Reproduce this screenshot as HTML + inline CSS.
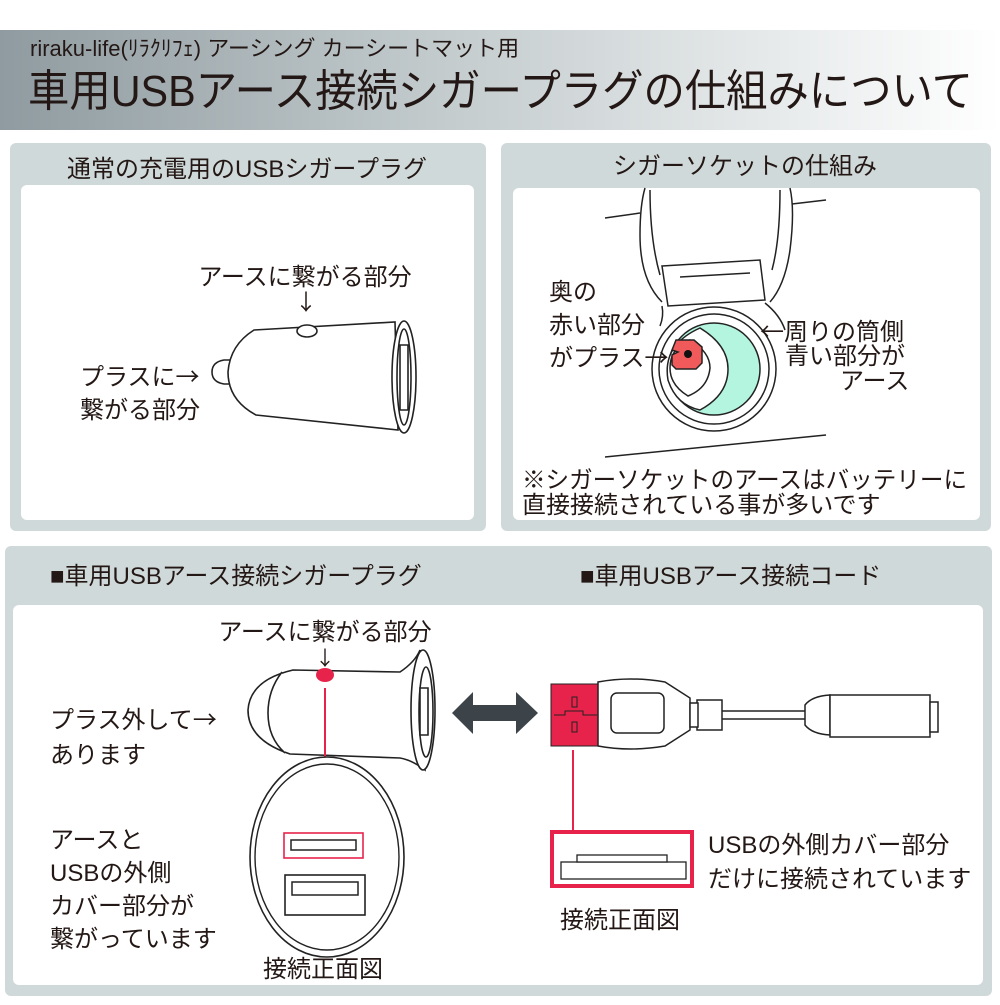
<!DOCTYPE html>
<html><head><meta charset="utf-8"><style>
body{margin:0;background:#fff;}
svg text{font-family:"Liberation Sans","Noto Sans CJK JP",sans-serif;fill:#231815;}
.a{font-family:"Noto Sans CJK JP",sans-serif;}
</style></head><body>
<svg width="1000" height="1000" viewBox="0 0 1000 1000" xmlns="http://www.w3.org/2000/svg">
<defs><linearGradient id="g" x1="0" x2="1" y1="0" y2="0">
<stop offset="0" stop-color="#8f9ba0"/><stop offset="0.45" stop-color="#c4ccce"/><stop offset="1" stop-color="#ffffff"/></linearGradient></defs>
<rect x="0" y="30" width="1000" height="100" fill="url(#g)"/>
<text x="30" y="56" font-size="22">riraku-life(ﾘﾗｸﾘﾌｪ) アーシング カーシートマット用</text>
<text x="28" y="106" font-size="44" textLength="945" lengthAdjust="spacingAndGlyphs">車用USBアース接続シガープラグの仕組みについて</text>

<rect x="10" y="143" width="476" height="388" rx="6" fill="#d0d9d9"/>
<rect x="21" y="185" width="453" height="335" rx="6" fill="#fff"/>
<text x="247" y="177" font-size="24" text-anchor="middle">通常の充電用のUSBシガープラグ</text>
<rect x="501" y="143" width="490" height="388" rx="6" fill="#d0d9d9"/>
<rect x="513" y="188" width="467" height="332" rx="6" fill="#fff"/>
<text x="745" y="174" font-size="24" text-anchor="middle">シガーソケットの仕組み</text>

<!-- top-left plug -->
<g fill="#fff" stroke="#222" stroke-width="1.6">
<path d="M230,360 L224,360 Q212,362 212,372 Q212,382 224,384 L232,384"/>
<path d="M254,330 L395,322 L398,430 L256,415 Q228,400 228,372 Q230,345 254,330Z"/>
<ellipse cx="404" cy="377" rx="12" ry="56"/>
<ellipse cx="404" cy="377" rx="7" ry="48"/>
<path d="M400,345 L408,345 L408,410 L400,410Z"/>
<ellipse cx="307" cy="331" rx="10" ry="6"/>
</g>
<text x="305" y="285" font-size="24" text-anchor="middle">アースに繋がる部分</text>
<text x="295" y="310" font-size="22" class="a">↓</text>
<text x="80" y="385" font-size="24">プラスに<tspan class="a">→</tspan></text>
<text x="80" y="418" font-size="24">繋がる部分</text>

<!-- socket -->
<g fill="none" stroke="#222" stroke-width="1.5">
<line x1="605" y1="218" x2="640" y2="213"/>
<line x1="792" y1="204" x2="826" y2="200"/>
<line x1="605" y1="457" x2="826" y2="435"/>
<path d="M662,302 Q640,280 640,235 Q640,205 645,188 M790,188 Q795,210 790,250 Q785,285 770,302"/>
<path d="M650,190 Q650,240 660,275 M780,190 Q780,240 772,270"/>
<path d="M662,266 L760,260 L765,300 L668,306Z" fill="#fff"/>
<line x1="680" y1="277" x2="750" y2="273"/>
<path d="M662,306 Q664,316 660,326"/>
<path d="M765,303 Q780,315 785,330"/>
</g>
<g stroke="#222" stroke-width="1.5">
<circle cx="714" cy="369" r="62" fill="#fff"/>
<circle cx="714" cy="369" r="55" fill="#fff"/>
<circle cx="714" cy="369" r="46" fill="#b4f5df"/>
<path d="M700,328 Q728,345 728,369 Q728,395 700,410 Q676,405 668,380 Q662,345 700,328Z" fill="#fff"/>
<path d="M690,340 Q710,352 710,368 Q708,388 688,396 Q670,385 670,368 Q670,348 690,340Z" fill="#fff"/>
<path d="M676,340 L694,340 L702,347 L702,363 L696,369 L676,369 L672,365 L672,355 L678,352 L672,350Z" fill="#f05a5a"/>
<circle cx="688" cy="354" r="4" fill="#111" stroke="none"/>
</g>
<text x="549" y="300" font-size="24">奥の</text>
<text x="549" y="333" font-size="24">赤い部分</text>
<text x="549" y="366" font-size="24">がプラス<tspan class="a">→</tspan></text>
<text x="760" y="340" font-size="24"><tspan class="a">←</tspan>周りの筒側</text>
<text x="785" y="364" font-size="24">青い部分が</text>
<text x="840" y="389" font-size="24">アース</text>
<text x="522" y="488" font-size="24" textLength="445" lengthAdjust="spacingAndGlyphs">※シガーソケットのアースはバッテリーに</text>
<text x="522" y="513" font-size="24">直接接続されている事が多いです</text>

<!-- bottom -->
<rect x="5" y="546" width="987" height="450" rx="6" fill="#d0d9d9"/>
<rect x="13" y="605" width="970" height="380" rx="6" fill="#fff"/>
<text x="50" y="584" font-size="24">■車用USBアース接続シガープラグ</text>
<text x="580" y="584" font-size="24">■車用USBアース接続コード</text>

<g fill="#fff" stroke="#222" stroke-width="1.6">
<path d="M293,670 L400,672 Q415,662 420,650 L425,770 Q412,760 400,758 L290,754 Q248,740 248,710 Q250,680 293,670Z"/>
<path d="M282,672 Q268,690 268,713 Q268,738 285,753"/>
<ellipse cx="423" cy="710" rx="12" ry="60"/>
<ellipse cx="426" cy="712" rx="7" ry="45"/>
<path d="M420,688 L428,688 L428,735 L420,735Z"/>
</g>
<ellipse cx="325" cy="675" rx="9" ry="7" fill="#e8234b"/>
<line x1="325" y1="688" x2="325" y2="838" stroke="#e8234b" stroke-width="2"/>
<text x="325" y="640" font-size="24" text-anchor="middle">アースに繋がる部分</text>
<text x="315" y="665" font-size="20" class="a">↓</text>
<text x="50" y="728" font-size="24">プラス外して<tspan class="a">→</tspan></text>
<text x="50" y="763" font-size="24">あります</text>

<ellipse cx="327" cy="857" rx="77" ry="100" fill="#fff" stroke="#222" stroke-width="1.6"/>
<ellipse cx="327" cy="857" rx="72" ry="93" fill="none" stroke="#222" stroke-width="1.4"/>
<rect x="284" y="833" width="79" height="25" fill="#fff" stroke="#e8234b" stroke-width="1.6"/>
<rect x="291" y="840" width="65" height="10" fill="#fff" stroke="#222" stroke-width="1.5"/>
<rect x="285" y="875" width="80" height="40" fill="#fff" stroke="#222" stroke-width="1.6"/>
<rect x="292" y="882" width="66" height="13" fill="#fff" stroke="#222" stroke-width="1.5"/>
<text x="50" y="848" font-size="24">アースと</text>
<text x="50" y="881" font-size="24">USBの外側</text>
<text x="50" y="914" font-size="24">カバー部分が</text>
<text x="50" y="947" font-size="24">繋がっています</text>
<text x="323" y="977" font-size="24" text-anchor="middle">接続正面図</text>

<polygon points="452,713 473,692 473,705 516,705 516,692 538,713 516,734 516,721 473,721 473,734" fill="#3c4449"/>

<rect x="551" y="684" width="48" height="62" fill="#e8234b" stroke="#222" stroke-width="1"/>
<path d="M554,715 L565,715 L565,711 L583,711 L583,715 L597,715" fill="none" stroke="#222" stroke-width="1"/>
<rect x="572" y="697" width="5" height="10" fill="none" stroke="#222"/>
<rect x="572" y="722" width="5" height="10" fill="none" stroke="#222"/>
<g fill="#fff" stroke="#222" stroke-width="1.5">
<path d="M598,682 Q630,676 665,682 L690,698 L690,730 L665,746 Q630,752 598,746Z"/>
<rect x="611" y="693" width="53" height="40" rx="6"/>
<rect x="697" y="700" width="25" height="30"/>
<rect x="690" y="703" width="8" height="24"/>
<line x1="722" y1="711" x2="805" y2="711"/>
<line x1="722" y1="719" x2="805" y2="719"/>
<path d="M805,705 Q812,696 830,695 L830,735 Q812,734 805,725Z"/>
<rect x="830" y="695" width="100" height="42"/>
<rect x="930" y="702" width="8" height="30"/>
</g>
<line x1="573" y1="750" x2="573" y2="830" stroke="#e8234b" stroke-width="2"/>
<rect x="552" y="832" width="140" height="54" fill="#fff" stroke="#e8234b" stroke-width="4"/>
<rect x="561" y="862" width="125" height="17" fill="#fff" stroke="#222" stroke-width="1.3"/>
<rect x="577" y="855" width="90" height="7" fill="#fff" stroke="#222" stroke-width="1.3"/>
<text x="708" y="853" font-size="24">USBの外側カバー部分</text>
<text x="708" y="887" font-size="24">だけに接続されています</text>
<text x="620" y="928" font-size="24" text-anchor="middle">接続正面図</text>
</svg>
</body></html>
